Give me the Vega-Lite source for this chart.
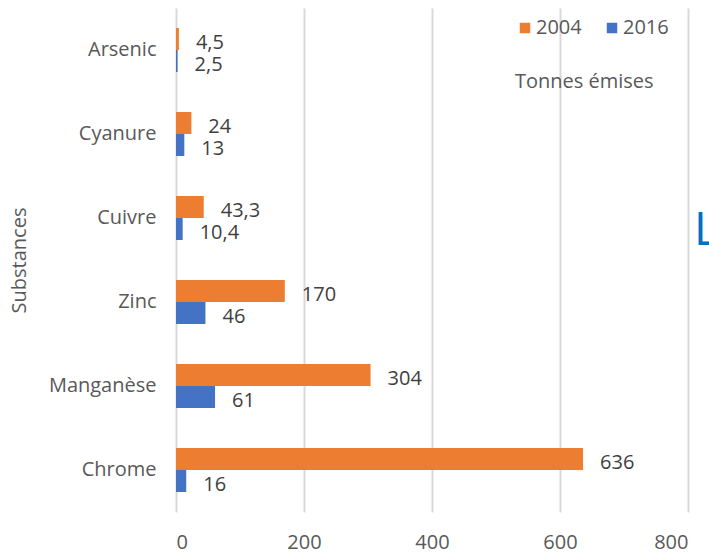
{
  "$schema": "https://vega.github.io/schema/vega-lite/v6.json",
  "width": 512,
  "height": 504,
  "autosize": {"type": "none"},
  "padding": {"left": 176, "top": 8, "right": 21, "bottom": 44},
  "config": {"font": "Open Sans", "view": {"stroke": null}},
  "layer": [
    {
      "data": {
        "values": [
          {"substance": "Arsenic", "year": "2004", "value": 4.5, "label": "4,5"},
          {"substance": "Arsenic", "year": "2016", "value": 2.5, "label": "2,5"},
          {"substance": "Cyanure", "year": "2004", "value": 24, "label": "24"},
          {"substance": "Cyanure", "year": "2016", "value": 13, "label": "13"},
          {"substance": "Cuivre", "year": "2004", "value": 43.3, "label": "43,3"},
          {"substance": "Cuivre", "year": "2016", "value": 10.4, "label": "10,4"},
          {"substance": "Zinc", "year": "2004", "value": 170, "label": "170"},
          {"substance": "Zinc", "year": "2016", "value": 46, "label": "46"},
          {"substance": "Manganèse", "year": "2004", "value": 304, "label": "304"},
          {"substance": "Manganèse", "year": "2016", "value": 61, "label": "61"},
          {"substance": "Chrome", "year": "2004", "value": 636, "label": "636"},
          {"substance": "Chrome", "year": "2016", "value": 16, "label": "16"}
        ]
      },
      "encoding": {
        "y": {
          "field": "substance",
          "type": "nominal",
          "sort": ["Arsenic", "Cyanure", "Cuivre", "Zinc", "Manganèse", "Chrome"],
          "scale": {"paddingInner": 0.476, "paddingOuter": 0.238},
          "axis": {
            "title": "Substances",
            "titleFontSize": 20,
            "titleFontWeight": "normal",
            "titleColor": "#595959",
            "titlePadding": 19,
            "labelFontSize": 20,
            "labelColor": "#595959",
            "labelPadding": 20,
            "ticks": false,
            "domain": false
          }
        },
        "yOffset": {"field": "year", "type": "nominal", "sort": ["2004", "2016"]},
        "x": {
          "field": "value",
          "type": "quantitative",
          "scale": {"domain": [0, 800]},
          "axis": {
            "title": null,
            "values": [0, 200, 400, 600, 800],
            "grid": true,
            "gridColor": "#D9D9D9",
            "gridWidth": 2,
            "domain": false,
            "ticks": false,
            "labelPadding": 20,
            "labelFontSize": 20,
            "labelColor": "#595959"
          }
        }
      },
      "layer": [
        {
          "mark": {"type": "bar"},
          "encoding": {
            "color": {
              "field": "year",
              "type": "nominal",
              "scale": {"domain": ["2004", "2016"], "range": ["#ED7D31", "#4472C4"]},
              "legend": {
                "orient": "none",
                "legendX": 339,
                "legendY": 10,
                "direction": "horizontal",
                "columns": 2,
                "title": "Tonnes émises",
                "titleOrient": "bottom",
                "titleAnchor": "start",
                "titleFontSize": 20,
                "titleFontWeight": "normal",
                "titleColor": "#595959",
                "titlePadding": 34,
                "labelFontSize": 20,
                "labelColor": "#595959",
                "labelOffset": 1,
                "symbolType": "square",
                "symbolSize": 110,
                "symbolStrokeWidth": 0,
                "columnPadding": 20
              }
            }
          }
        },
        {
          "mark": {"type": "text", "align": "left", "baseline": "middle", "dx": 17, "dy": 4, "fontSize": 20, "color": "#404040"},
          "encoding": {"text": {"field": "label"}}
        }
      ]
    },
    {
      "data": {"values": [{"t": "L", "pos": 800, "substance": "Cuivre"}]},
      "mark": {"type": "text", "align": "left", "baseline": "alphabetic", "dx": 6, "dy": 27, "fontSize": 46, "color": "#0070C0"},
      "encoding": {
        "x": {"field": "pos", "type": "quantitative"},
        "y": {
          "field": "substance",
          "type": "nominal",
          "sort": ["Arsenic", "Cyanure", "Cuivre", "Zinc", "Manganèse", "Chrome"]
        },
        "text": {"field": "t"}
      }
    }
  ]
}
